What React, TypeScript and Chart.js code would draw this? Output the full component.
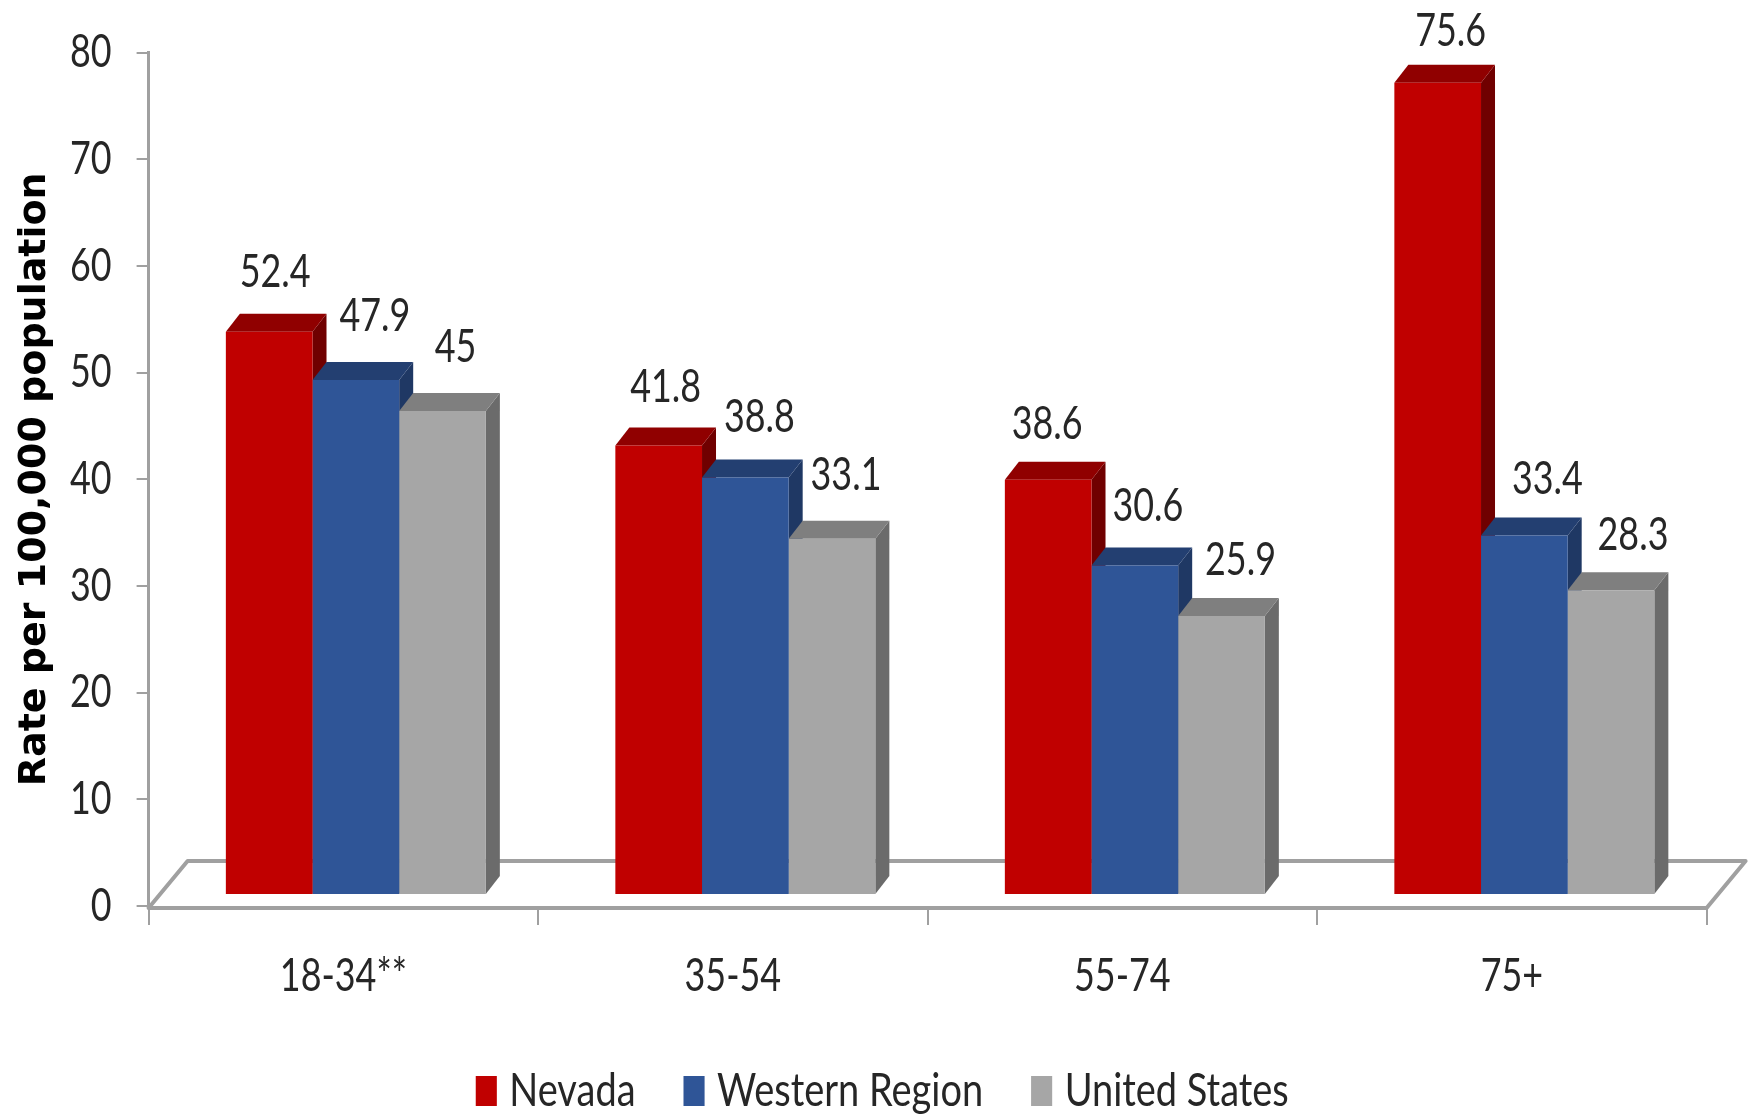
import React, { useEffect, useRef } from "react";
import { Chart, registerables } from "chart.js";

Chart.register(...registerables);

const categories = ["18-34**", "35-54", "55-74", "75+"];
const nevada = [52.4, 41.8, 38.6, 75.6];
const western = [47.9, 38.8, 30.6, 33.4];
const unitedStates = [45, 33.1, 25.9, 28.3];
const seriesNames = ["Nevada", "Western Region", "United States"];

const FRONT = ["#C00000", "#2F5597", "#A6A6A6"];
const TOP = ["#900000", "#233F71", "#7F7F7F"];
const SIDE = ["#700000", "#1F3864", "#6B6B6B"];
const AXIS = "#A0A0A0";
const TEXT = "#262626";
const BODY_FONT = "Lato";
const LEGEND_FONT = "Lato, sans-serif";
const FONT_SIZE = 46;
const SQUEEZE = 0.78;
const LEGEND_SQUEEZE = 0.825;

const W = 1748;
const H = 1124;
const PLOT_BOTTOM = 906;
const PAD_LEFT = 27;
const DEPTH_X = 14;
const DEPTH_Y = 18;
const FLOOR_X = 39;
const FLOOR_Y = 47;

// label nudges from the bar's front-top centre, by series then category
const labelDX = [[6, 7, -1, 13], [19, 14, 13, 23], [13, 14, 19, 22]];
const labelDY = [[-59, -58, -56, -51], [-64, -60, -59, -56], [-64, -64, -56, -55]];

// The reference's text is a condensed face; none is installed, so the body font is narrowed.
const condense = (ctx: any) => {
  const fill = ctx.fillText.bind(ctx);
  const measure = ctx.measureText.bind(ctx);
  const factor = () => {
    const f: string = ctx.font;
    if (!f.includes(BODY_FONT)) return 1;
    return f.includes("sans-serif") ? LEGEND_SQUEEZE : SQUEEZE;
  };
  ctx.fillText = (t: string, x: number, y: number, m?: number) => {
    const k = factor();
    if (k === 1) return m === undefined ? fill(t, x, y) : fill(t, x, y, m);
    ctx.save();
    ctx.translate(x, y);
    ctx.scale(k, 1);
    fill(t, 0, 0);
    ctx.restore();
  };
  ctx.measureText = (t: string) => {
    const r = measure(t);
    const k = factor();
    if (k === 1) return r;
    return { width: r.width * k, actualBoundingBoxAscent: r.actualBoundingBoxAscent, actualBoundingBoxDescent: r.actualBoundingBoxDescent };
  };
};

const poly = (ctx: CanvasRenderingContext2D, pts: number[][], fill: string) => {
  ctx.beginPath();
  pts.forEach(([x, y], i) => (i ? ctx.lineTo(x, y) : ctx.moveTo(x, y)));
  ctx.closePath();
  ctx.fillStyle = fill;
  ctx.fill();
};

const depthPlugin = {
  id: "depth",
  beforeDatasetsDraw(chart: any) {
    const ctx = chart.ctx as CanvasRenderingContext2D;
    const a = chart.chartArea;
    ctx.save();
    ctx.strokeStyle = AXIS;
    ctx.lineWidth = 4;
    ctx.lineJoin = "round";
    ctx.beginPath();
    const fy = a.bottom + 2;
    ctx.moveTo(a.left, fy);
    ctx.lineTo(a.left + FLOOR_X, fy - FLOOR_Y);
    ctx.lineTo(a.right + FLOOR_X, fy - FLOOR_Y);
    ctx.lineTo(a.right, fy);
    ctx.closePath();
    ctx.stroke();
    chart.data.datasets.forEach((_: any, di: number) => {
      chart.getDatasetMeta(di).data.forEach((bar: any) => {
        const l = bar.x - bar.width / 2;
        const r = bar.x + bar.width / 2;
        poly(ctx, [[r, bar.base], [r + DEPTH_X, bar.base - DEPTH_Y], [r + DEPTH_X, bar.y - DEPTH_Y], [r, bar.y]], SIDE[di]);
        poly(ctx, [[l, bar.y], [l + DEPTH_X, bar.y - DEPTH_Y], [r + DEPTH_X, bar.y - DEPTH_Y], [r, bar.y]], TOP[di]);
      });
    });
    ctx.restore();
  },
  afterDatasetsDraw(chart: any) {
    const ctx = chart.ctx as CanvasRenderingContext2D;
    ctx.save();
    ctx.font = `${FONT_SIZE}px ${BODY_FONT}`;
    ctx.fillStyle = TEXT;
    ctx.textAlign = "center";
    ctx.textBaseline = "middle";
    chart.data.datasets.forEach((ds: any, di: number) => {
      chart.getDatasetMeta(di).data.forEach((bar: any, i: number) => {
        ctx.fillText(String(ds.data[i].y), bar.x + labelDX[di][i], bar.y + labelDY[di][i]);
      });
    });
    ctx.restore();
  },
};

export default function App() {
  const ref = useRef<HTMLCanvasElement>(null);
  useEffect(() => {
    document.body.style.margin = "0";
    const series = [nevada, western, unitedStates];
    condense(ref.current!.getContext("2d"));
    const chart = new Chart(ref.current!, {
      type: "bar",
      data: {
        labels: categories,
        datasets: series.map((values, s) => ({
          label: seriesNames[s],
          data: values.map((y, x) => ({ x, y })),
          backgroundColor: FRONT[s],
          borderWidth: 0,
          xAxisID: "xBars",
          yAxisID: "yBars",
          categoryPercentage: 0.6675,
          barPercentage: 1,
        })),
      } as any,
      plugins: [depthPlugin],
      options: {
        responsive: false,
        animation: false,
        devicePixelRatio: 1,
        layout: { autoPadding: false, padding: { left: PAD_LEFT, right: 0, top: 52, bottom: 0 } },
        plugins: {
          tooltip: { enabled: false },
          legend: {
            position: "bottom",
            labels: {
              color: TEXT,
              font: { family: LEGEND_FONT, size: FONT_SIZE },
              boxWidth: 0.1,
              boxHeight: 9,
              padding: 58.5,
              generateLabels: (c: any) =>
                Chart.defaults.plugins.legend.labels.generateLabels(c).map((l: any, i: number) => ({
                  ...l,
                  strokeStyle: FRONT[i],
                  lineWidth: 21,
                })),
            },
          },
        },
        scales: {
          x: {
            type: "category",
            position: "bottom",
            offset: true,
            grid: { offset: true, drawOnChartArea: false, tickLength: 19, color: AXIS, lineWidth: 2 },
            border: { display: false },
            ticks: { color: TEXT, font: { family: BODY_FONT, size: FONT_SIZE }, padding: 24, maxRotation: 0 },
            afterFit: (s: any) => { s.height = H - PLOT_BOTTOM - s.chart.legend.height; },
          },
          xBars: {
            type: "linear",
            display: false,
            offset: false,
            grid: { offset: false },
            min: -0.5 - 12.5 / 389.5,
            max: 3.5 - 12.5 / 389.5,
            afterBuildTicks: (s: any) => { s.ticks = categories.map((_, value) => ({ value })); },
          },
          y: {
            type: "linear",
            position: "left",
            min: 0,
            max: 80,
            ticks: { stepSize: 10, color: TEXT, font: { family: BODY_FONT, size: FONT_SIZE }, padding: 25 },
            grid: { drawOnChartArea: false, tickLength: 12, color: AXIS, lineWidth: 2 },
            border: { display: true, color: AXIS, width: 3 },
            title: {
              display: true,
              text: "Rate per 100,000 population",
              color: "#000000",
              font: { family: '"DejaVu Sans"', size: 38, weight: "bold" },
              padding: { top: -15, bottom: 15 },
            },
            afterFit: (s: any) => { s.width = 148.6 - PAD_LEFT; },
          },
          yBars: {
            type: "linear",
            position: "right",
            min: -12 / 10.74,
            max: (894 - 52) / 10.74,
            ticks: { display: false },
            grid: { display: false },
            border: { display: false },
            afterFit: (s: any) => { s.width = 41.4; },
          },
        },
      } as any,
    });
    return () => chart.destroy();
  }, []);
  return (
    <div style={{ width: W, height: 1116, overflow: "hidden", background: "#fff" }}>
      <canvas ref={ref} width={W} height={H} style={{ display: "block" }} />
    </div>
  );
}
